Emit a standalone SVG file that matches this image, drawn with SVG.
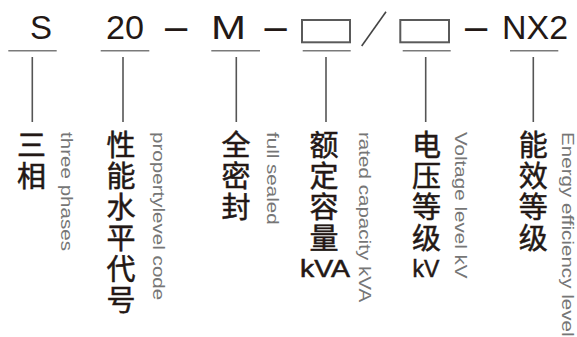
<svg xmlns="http://www.w3.org/2000/svg" width="577" height="337" viewBox="0 0 577 337">
<style>
.top{font-family:"Liberation Sans",Arial,sans-serif;font-size:33px;fill:#231815;text-anchor:middle}
.dash{font-family:"Liberation Sans",Arial,sans-serif;font-size:40px;fill:#231815;text-anchor:middle}
.cn{font-family:"Noto Sans CJK SC","Liberation Sans",sans-serif;font-size:29px;font-weight:normal;fill:#231815;stroke:#231815;stroke-width:0.5;text-anchor:middle}
.unit{font-family:"Liberation Sans",Arial,sans-serif;font-size:23px;fill:#231815;stroke:#231815;stroke-width:0.5;text-anchor:middle}
.en{font-family:"Liberation Sans",Arial,sans-serif;font-size:20.6px;fill:#767676}
.ul{stroke:#7a7a7a;stroke-width:1.6;fill:none}
.vl{stroke:#555;stroke-width:1.6;fill:none}
.box{stroke:#5a5a5a;stroke-width:2;fill:none}
</style>
<rect width="577" height="337" fill="#fff"/>
<g id="separators">
<text class="dash" x="176" y="39.5">–</text>
<text class="dash" x="275.5" y="39.5">–</text>
<text class="dash" x="476" y="39.5">–</text>
<line x1="361.7" y1="46" x2="386" y2="11.7" stroke="#444" stroke-width="1.6"/>
</g>
<g id="connectors">
<line class="ul" x1="8.3" y1="50.7" x2="56.7" y2="50.7"/>
<line class="ul" x1="100.7" y1="50.7" x2="149.3" y2="50.7"/>
<line class="ul" x1="211.3" y1="50.7" x2="260" y2="50.7"/>
<line class="ul" x1="302.7" y1="50.7" x2="350.7" y2="50.7"/>
<line class="ul" x1="402.7" y1="50.7" x2="450.7" y2="50.7"/>
<line class="ul" x1="510" y1="50.7" x2="558.3" y2="50.7"/>
<line class="vl" x1="32.3" y1="57" x2="32.3" y2="122"/>
<line class="vl" x1="123" y1="57" x2="123" y2="122"/>
<line class="vl" x1="236.3" y1="57" x2="236.3" y2="122"/>
<line class="vl" x1="326" y1="57" x2="326" y2="122"/>
<line class="vl" x1="425.7" y1="57" x2="425.7" y2="122"/>
<line class="vl" x1="533.3" y1="57" x2="533.3" y2="122"/>
</g>
<g id="node-S">
<text class="top" x="41" y="38.5">S</text>
<text class="cn"><tspan x="31.5" y="156">三</tspan><tspan x="31.5" y="187">相</tspan></text>
<text class="en" transform="translate(60.5,132) rotate(90) scale(1,0.84)">three phases</text>
</g>
<g id="node-20">
<text class="top" x="125" y="38.5" textLength="38" lengthAdjust="spacingAndGlyphs">20</text>
<text class="cn"><tspan x="121" y="156">性</tspan><tspan x="121" y="187">能</tspan><tspan x="121" y="218">水</tspan><tspan x="121" y="249">平</tspan><tspan x="121" y="280">代</tspan><tspan x="121" y="311">号</tspan></text>
<text class="en" transform="translate(152.5,132) rotate(90) scale(1,0.84)">propertylevel code</text>
</g>
<g id="node-M">
<text class="top" x="228.5" y="38.5" textLength="35" lengthAdjust="spacingAndGlyphs">M</text>
<text class="cn"><tspan x="236" y="156">全</tspan><tspan x="236" y="187">密</tspan><tspan x="236" y="218">封</tspan></text>
<text class="en" transform="translate(266.5,132) rotate(90) scale(1,0.84)">full sealed</text>
</g>
<g id="node-capacity">
<rect class="box" x="302" y="20" width="48" height="22.3"/>
<text class="cn"><tspan x="324" y="156">额</tspan><tspan x="324" y="187">定</tspan><tspan x="324" y="218">容</tspan><tspan x="324" y="249">量</tspan></text>
<text class="unit" x="325" y="277" textLength="50" lengthAdjust="spacingAndGlyphs">kVA</text>
<text class="en" transform="translate(358.5,132) rotate(90) scale(1,0.84)">rated capacity kVA</text>
</g>
<g id="node-voltage">
<rect class="box" x="400.3" y="20" width="48.7" height="22.3"/>
<text class="cn"><tspan x="426.5" y="156">电</tspan><tspan x="426.5" y="187">压</tspan><tspan x="426.5" y="218">等</tspan><tspan x="426.5" y="249">级</tspan></text>
<text class="unit" x="426" y="277">kV</text>
<text class="en" transform="translate(455,132) rotate(90) scale(1,0.84)">Voltage level kV</text>
</g>
<g id="node-NX2">
<text class="top" x="535" y="38.5" textLength="66" lengthAdjust="spacingAndGlyphs">NX2</text>
<text class="cn"><tspan x="533.3" y="156">能</tspan><tspan x="533.3" y="187">效</tspan><tspan x="533.3" y="218">等</tspan><tspan x="533.3" y="249">级</tspan></text>
<text class="en" transform="translate(561.5,132) rotate(90) scale(1,0.84)">Energy efficiency level</text>
</g>
</svg>
